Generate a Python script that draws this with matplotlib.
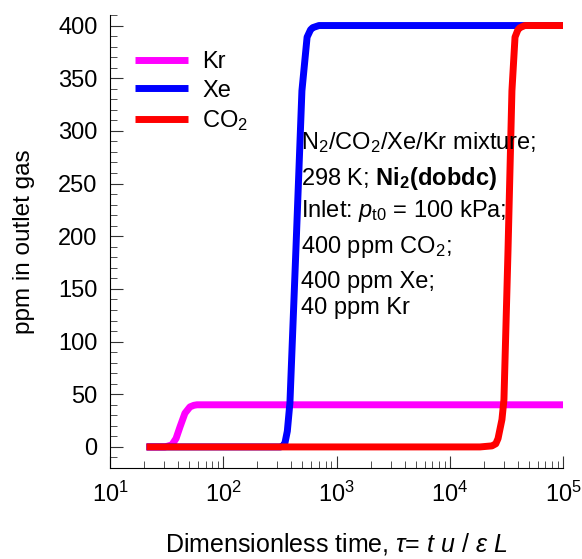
import numpy as np
import matplotlib
matplotlib.use('Agg')
import matplotlib.pyplot as plt
from matplotlib.ticker import LogLocator, MultipleLocator

plt.rcParams['font.family'] = ['Liberation Sans', 'DejaVu Sans']
plt.rcParams['mathtext.fontset'] = 'custom'
plt.rcParams['mathtext.rm'] = 'Liberation Sans'
plt.rcParams['mathtext.it'] = 'Liberation Sans:italic'
plt.rcParams['mathtext.bf'] = 'Liberation Sans:bold'

# breakthrough curves (tau, ppm)
kr_tau = [21, 30.6, 35.2, 38.3, 41.5, 45.9, 50.8, 55, 58.6, 100000]
kr_ppm = [0, 0, 2, 8, 19, 32, 38, 39.5, 40, 40]

xe_tau = [21, 320, 337, 351, 368, 388, 438, 495, 550, 590, 617, 700, 100000]
xe_ppm = [0, 0, 1, 4, 15, 42, 187, 338, 389, 396, 398, 400, 400]

co2_tau = [21, 18500, 23600, 25500, 26700, 28900, 30100, 32700, 35400, 37700, 40000, 41700, 46000, 100000]
co2_ppm = [0, 0, 1, 3, 8, 26, 45, 187, 338, 389, 396, 398, 400, 400]

series = [('Kr', kr_tau, kr_ppm, '#ff00ff'),
          ('Xe', xe_tau, xe_ppm, '#0000ff'),
          ('CO$_2$', co2_tau, co2_ppm, '#ff0000')]

notes = ['N$_2$/CO$_2$/Xe/Kr mixture;',
         r'298 K; $\mathbf{Ni_2(dobdc)}$',
         r'Inlet: $p_{\mathrm{t0}}$ = 100 kPa;',
         '400 ppm CO$_2$;',
         '400 ppm Xe;',
         '40 ppm Kr']
note_y = [143, 178, 211, 247, 282, 308]  # pixel rows of the text lines

fig = plt.figure(figsize=(5.82, 5.59), dpi=100)
ax = fig.add_axes([110/582, 1 - 468/559, 453/582, 453/559])

for name, t, p, c in series:
    ax.plot(t, p, color=c, lw=5, label=name, solid_capstyle='butt')

ax.set_xscale('log')
ax.set_xlim(10, 1e5)
ax.set_ylim(-20, 410)
ax.yaxis.set_major_locator(MultipleLocator(50))
ax.yaxis.set_minor_locator(MultipleLocator(10))
ax.xaxis.set_major_locator(LogLocator(base=10, numticks=10))
ax.xaxis.set_minor_locator(LogLocator(base=10, subs=np.arange(2, 10), numticks=20))

for s in ['top', 'right']:
    ax.spines[s].set_visible(False)
ax.tick_params(axis='both', which='both', direction='in', labelsize=17, color='#333333')
ax.tick_params(axis='both', which='major', length=9)
ax.tick_params(axis='both', which='minor', length=5)
ax.tick_params(axis='x', which='major', pad=10)
ax.tick_params(axis='y', which='major', pad=9)

ax.set_ylabel('ppm in outlet gas', fontsize=17.5, labelpad=17)
ax.set_xlabel(r'Dimensionless time, $\tau$= $t$ $u$ / $\varepsilon$ $L$', fontsize=18, labelpad=17)

ax.legend(loc='upper left', bbox_to_anchor=(0.055, 0.92), frameon=False, fontsize=17,
          handlelength=2.25, handletextpad=0.6, labelspacing=0.27, borderpad=0, borderaxespad=0)

for s, y in zip(notes, note_y):
    fig.text(301/582, 1 - y / 559, s, fontsize=17, va='center', ha='left')

fig.savefig('out.png', dpi=100)
